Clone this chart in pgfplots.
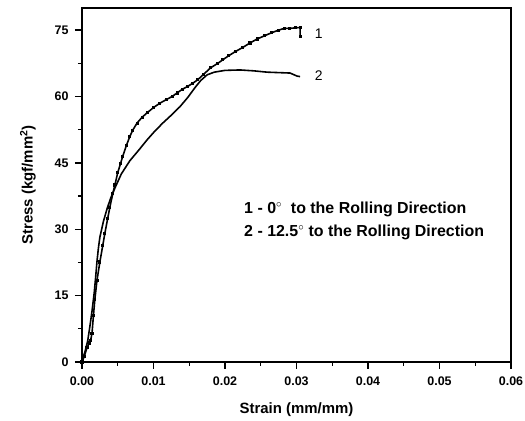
\documentclass[border=0pt]{standalone}
\usepackage{fontspec}
\setmainfont{Liberation Sans}
\usepackage{pgfplots}
\pgfplotsset{compat=1.18}

\begin{document}
\begin{tikzpicture}
\begin{axis}[
  scale only axis,
  width=429bp, height=354bp,
  xmin=0, xmax=0.06, ymin=0, ymax=80,
  xtick={0,0.01,...,0.06}, ytick={0,15,...,75},
  minor x tick num=1, minor y tick num=1,
  tick pos=left, tick align=outside,
  major tick length=7bp, minor tick length=4bp,
  axis line style={line width=1.6pt},
  every tick/.style={line width=1.3pt, black},
  scaled x ticks=false,
  x tick label style={yshift=-4bp, /pgf/number format/.cd, fixed, fixed zerofill, precision=2, assume math mode=true},
  y tick label style={xshift=-3bp, /pgf/number format/assume math mode=true},
  ticklabel style={font=\fontsize{12.5}{14}\selectfont\bfseries},
  xlabel={Strain (mm/mm)},
  ylabel={Stress (kgf/mm$^{\mathbf{2}}$)},
  label style={font=\fontsize{15}{17}\selectfont\bfseries},
  xlabel style={yshift=-10bp},
  ylabel style={yshift=12bp},
  clip=false,
]
% 1 - 0 deg to the rolling direction
\addplot[black, line width=1.6pt, mark=square*, mark size=0.75pt, mark options={solid}] coordinates {
(0,0) (0.0003,1.2) (0.0007,3.2) (0.0010,4.3) (0.0012,4.8) (0.0014,6.5)
(0.0016,10.5) (0.0018,14.2) (0.0021,18.5) (0.0025,22.6) (0.0029,26.3)
(0.0032,29.1) (0.0036,32.5) (0.0039,35.0) (0.0043,38.0) (0.0046,40.0)
(0.0050,42.8) (0.0054,44.9) (0.0057,46.5) (0.0062,48.9) (0.0067,51.0)
(0.0071,52.4) (0.0077,54.0) (0.0084,55.3) (0.0091,56.3) (0.0100,57.5)
(0.0109,58.5) (0.0118,59.3) (0.0126,60.0) (0.0133,60.8) (0.0140,61.6)
(0.0148,62.3) (0.0155,63.0) (0.0162,63.8) (0.0170,65.0) (0.0180,66.5)
(0.0190,67.5) (0.0197,68.3) (0.0205,69.2) (0.0215,70.2) (0.0225,71.1)
(0.0235,72.1) (0.0245,73.0) (0.0255,73.7) (0.0265,74.4) (0.0275,75.0)
(0.0283,75.4) (0.0290,75.4) (0.0298,75.5) (0.0305,75.6) (0.0305,73.5)
};
% 2 - 12.5 deg to the rolling direction
\addplot[black, line width=1.6pt, no marks] coordinates {
(0,0.5) (0.0004,2.2) (0.0008,4.8) (0.0011,8.0) (0.0014,11.5) (0.0017,15.5)
(0.0019,19.0) (0.0021,22.8) (0.0023,25.8) (0.0025,28.2) (0.0030,31.8)
(0.0035,34.6) (0.0040,37.0) (0.0046,39.3) (0.0055,42.5) (0.0067,45.5)
(0.0080,48.0) (0.0091,50.2) (0.0102,52.2) (0.0113,54.0) (0.0125,55.8)
(0.0137,57.7) (0.0148,59.8) (0.0158,62.0) (0.0166,63.6) (0.0175,64.9)
(0.0185,65.5) (0.0200,65.9) (0.0221,66.0) (0.0240,65.8) (0.0259,65.5)
(0.0275,65.4) (0.0291,65.3) (0.0301,64.6) (0.0305,64.5)
};
\node[font=\fontsize{14}{16}\selectfont] at (axis cs:0.0331,74.3) {1};
\node[font=\fontsize{14}{16}\selectfont] at (axis cs:0.0331,64.8) {2};
\node[anchor=west, font=\fontsize{16}{18}\selectfont\bfseries] at (axis cs:0.0222,34.4) {1 - 0$^\circ$\ \ to the Rolling Direction};
\node[anchor=west, font=\fontsize{16}{18}\selectfont\bfseries] at (axis cs:0.0222,29.2) {2 - 12.5$^\circ$ to the Rolling Direction};
\end{axis}
\pgfresetboundingbox
\path[use as bounding box] (-82bp,-59bp) rectangle (443bp,362bp);
\end{tikzpicture}
\end{document}
